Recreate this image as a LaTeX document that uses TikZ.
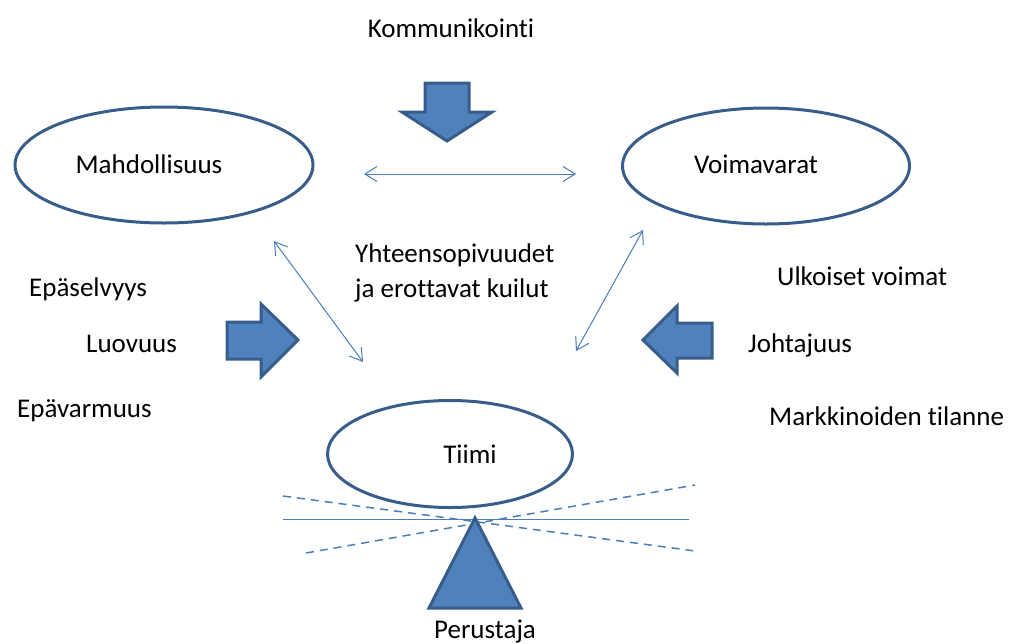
\documentclass[tikz,border=0pt]{standalone}
\usepackage{fontspec}
\setmainfont{Carlito}[Ligatures=NoCommon]
\usetikzlibrary{arrows.meta,shapes.geometric}
\definecolor{fillblue}{HTML}{4F81BD}
\definecolor{edgeblue}{HTML}{385D8A}
\definecolor{lineblue}{HTML}{4A7EBB}
\tikzset{
  oval/.style={draw=edgeblue, line width=3pt, ellipse, inner sep=0pt},
  lbl/.style={font=\fontsize{27}{33}\selectfont, inner sep=0pt, text=black},
  blockarrow/.style={draw=edgeblue, fill=fillblue, line width=3pt, line join=miter},
  link/.style={draw=lineblue, line width=1pt, {Straight Barb[length=12pt,width=15pt]}-{Straight Barb[length=12pt,width=15pt]}},
  balance/.style={draw=lineblue, line width=1.5pt, dash pattern=on 8pt off 6pt},
}
\begin{document}
\begin{tikzpicture}[x=1pt,y=-1pt]
\useasboundingbox (0,0) rectangle (1011,643);

% ellipses
\node[oval, minimum width=298pt, minimum height=116pt] (mah) at (164,165) {};
\node[oval, minimum width=287pt, minimum height=116pt] (voi) at (766,166) {};
\node[oval, minimum width=245pt, minimum height=107pt] (tii) at (450,454) {};

\node[lbl, anchor=base] (mahT) at (149,173) {Mahdollisuus};
\node[lbl, anchor=base] (voiT) at (756,173) {Voimavarat};
\node[lbl, anchor=base] (tiiT) at (470,463) {Tiimi};

% top text and down arrow
\node[lbl, anchor=base] (kom) at (451,37) {Kommunikointi};
\draw[blockarrow] (425,83) -- (469,83) -- (469,112) -- (492,112) -- (447,141) -- (402,112) -- (425,112) -- cycle;

% middle text
\node[lbl, anchor=base west] (yht1) at (355,262) {Yhteensopivuudet};
\node[lbl, anchor=base west] (yht2) at (355,297) {ja erottavat kuilut};

% connectors
\coordinate (hL) at (364,174);
\coordinate (hR) at (576,174);
\coordinate (dLa) at (274,241);
\coordinate (dLb) at (363,362);
\coordinate (dRa) at (643,230);
\coordinate (dRb) at (576,351);
\draw[link] (hL) -- (hR);
\draw[link] (dLa) -- (dLb);
\draw[link] (dRa) -- (dRb);

% left texts and arrow
\node[lbl, anchor=base west] (eps) at (29,296) {Epäselvyys};
\node[lbl, anchor=base west] (luo) at (86,352) {Luovuus};
\node[lbl, anchor=base west] (epv) at (17,417) {Epävarmuus};
\draw[blockarrow] (227,322) -- (261,322) -- (261,304) -- (298,340) -- (261,377) -- (261,359) -- (227,359) -- cycle;

% right texts and arrow
\node[lbl, anchor=base west] (ulk) at (777,285) {Ulkoiset voimat};
\node[lbl, anchor=base west] (joh) at (748,352) {Johtajuus};
\node[lbl, anchor=base west] (mar) at (769,425) {Markkinoiden tilanne};
\draw[blockarrow] (643,340) -- (677,306) -- (677,323) -- (712,323) -- (712,358) -- (677,358) -- (677,373) -- cycle;

% balance
\coordinate (b1) at (283,519);
\coordinate (b2) at (689,519);
\coordinate (d1a) at (283,496);
\coordinate (d1b) at (695,551);
\coordinate (d2a) at (306,553);
\coordinate (d2b) at (695,485);
\draw[lineblue, line width=1pt] (b1) -- (b2);
\draw[balance] (d1a) -- (d1b);
\draw[balance] (d2a) -- (d2b);
\draw[blockarrow] (475,518) -- (521,608) -- (429,608) -- cycle;

\node[lbl, anchor=base] (per) at (485,638) {Perustaja};
\end{tikzpicture}
\end{document}
